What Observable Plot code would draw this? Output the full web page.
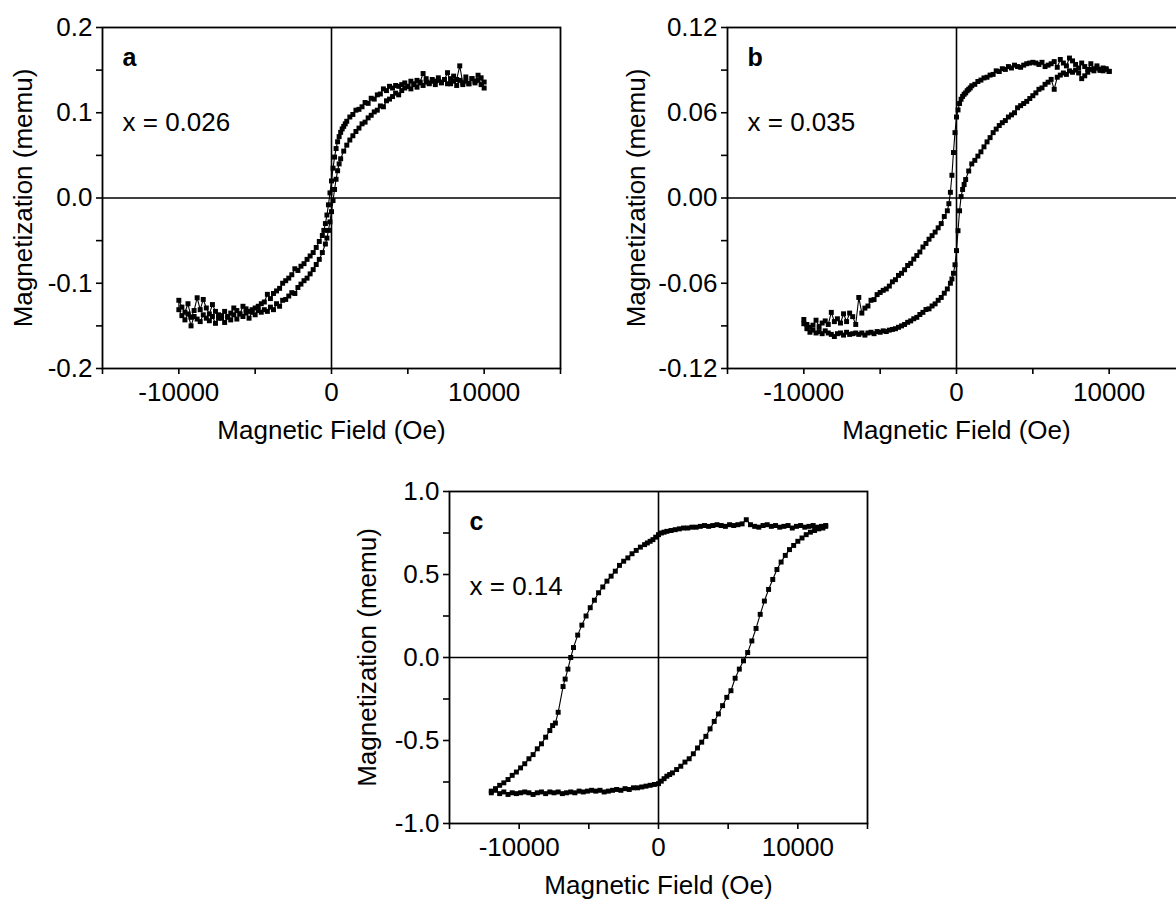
<!DOCTYPE html>
<html><head><meta charset="utf-8">
<script src="https://cdn.jsdelivr.net/npm/d3@7"></script>
<script src="https://cdn.jsdelivr.net/npm/@observablehq/plot@0.6"></script>
<style>
html,body{margin:0;padding:0;background:#fff;overflow:hidden;}
#root{position:relative;width:1176px;height:902px;overflow:hidden;background:#fff;}
#root > svg{position:absolute;}
</style></head><body><div id="root"></div>
<script>
// ---------- Data: [field H (Oe), magnetization M (memu)] ----------
// Panel a, x = 0.026 : descending branch (+H -> -H)
const aDescending = [
[10000,0.129],[9800,0.141],[9600,0.144],[9400,0.137],[9200,0.140],[9000,0.134],[8800,0.142],[8600,0.135],[8400,0.155],[8200,0.139],
[8000,0.143],[7800,0.134],[7600,0.147],[7400,0.139],[7200,0.136],[7000,0.141],[6800,0.137],[6600,0.139],[6400,0.135],[6200,0.140],
[6000,0.146],[5800,0.136],[5600,0.138],[5400,0.134],[5200,0.137],[5000,0.131],[4800,0.135],[4600,0.133],[4400,0.131],[4200,0.132],
[4000,0.129],[3800,0.131],[3600,0.126],[3400,0.128],[3200,0.122],[3000,0.121],[2800,0.116],[2600,0.117],[2400,0.111],[2200,0.112],
[2000,0.107],[1800,0.104],[1600,0.103],[1400,0.098],[1200,0.095],[1000,0.090],[900,0.087],[800,0.084],[700,0.081],[600,0.077],
[500,0.072],[400,0.066],[300,0.058],[200,0.048],[100,0.035],[0,0.020],[-100,0.006],[-200,-0.008],[-300,-0.020],[-400,-0.030],
[-500,-0.038],[-600,-0.044],[-800,-0.051],[-1000,-0.058],[-1200,-0.064],[-1400,-0.068],[-1600,-0.072],[-1800,-0.077],[-2000,-0.080],[-2200,-0.085],
[-2400,-0.083],[-2600,-0.090],[-2800,-0.094],[-3000,-0.097],[-3200,-0.100],[-3400,-0.106],[-3600,-0.109],[-3800,-0.112],[-4000,-0.118],[-4200,-0.113],
[-4400,-0.122],[-4600,-0.124],[-4800,-0.127],[-5000,-0.129],[-5200,-0.131],[-5400,-0.133],[-5600,-0.130],[-5800,-0.127],[-6000,-0.136],[-6200,-0.132],
[-6400,-0.129],[-6600,-0.135],[-6800,-0.139],[-7000,-0.133],[-7200,-0.141],[-7400,-0.137],[-7600,-0.133],[-7800,-0.125],[-8000,-0.136],[-8200,-0.129],
[-8400,-0.119],[-8600,-0.131],[-8800,-0.117],[-9000,-0.132],[-9200,-0.140],[-9400,-0.124],[-9600,-0.134],[-9800,-0.128],[-10000,-0.120]
];
// Panel a : ascending branch (-H -> +H)
const aAscending = [
[-10000,-0.131],[-9800,-0.138],[-9600,-0.143],[-9400,-0.136],[-9200,-0.150],[-9000,-0.139],[-8800,-0.142],[-8600,-0.145],[-8400,-0.137],[-8200,-0.141],
[-8000,-0.144],[-7800,-0.139],[-7600,-0.147],[-7400,-0.141],[-7200,-0.138],[-7000,-0.146],[-6800,-0.140],[-6600,-0.143],[-6400,-0.137],[-6200,-0.142],
[-6000,-0.136],[-5800,-0.139],[-5600,-0.135],[-5400,-0.141],[-5200,-0.134],[-5000,-0.137],[-4800,-0.132],[-4600,-0.134],[-4400,-0.131],[-4200,-0.133],
[-4000,-0.128],[-3800,-0.131],[-3600,-0.124],[-3400,-0.127],[-3200,-0.120],[-3000,-0.119],[-2800,-0.115],[-2600,-0.111],[-2400,-0.112],[-2200,-0.105],
[-2000,-0.101],[-1800,-0.097],[-1600,-0.094],[-1400,-0.089],[-1200,-0.084],[-1000,-0.078],[-800,-0.072],[-600,-0.064],[-400,-0.054],[-300,-0.047],
[-200,-0.038],[-100,-0.028],[0,-0.016],[100,-0.003],[200,0.010],[300,0.022],[400,0.032],[500,0.040],[600,0.046],[800,0.055],
[1000,0.062],[1200,0.068],[1400,0.073],[1600,0.078],[1800,0.082],[2000,0.087],[2200,0.089],[2400,0.094],[2600,0.097],[2800,0.101],
[3000,0.103],[3200,0.108],[3400,0.107],[3600,0.114],[3800,0.116],[4000,0.119],[4200,0.123],[4400,0.121],[4600,0.126],[4800,0.129],
[5000,0.131],[5200,0.128],[5400,0.133],[5600,0.130],[5800,0.135],[6000,0.132],[6200,0.136],[6400,0.134],[6600,0.137],[6800,0.133],
[7000,0.138],[7200,0.135],[7400,0.139],[7600,0.134],[7800,0.140],[8000,0.137],[8200,0.132],[8400,0.138],[8600,0.133],[8800,0.137],
[9000,0.134],[9200,0.140],[9400,0.135],[9600,0.138],[9800,0.133],[10000,0.136]
];
// Panel b, x = 0.035 : descending branch
const bDescending = [
[10000,0.0892],[9800,0.0905],[9600,0.0915],[9400,0.0898],[9200,0.0930],[9000,0.0910],[8800,0.0945],[8600,0.0905],[8400,0.0925],[8200,0.0950],
[8000,0.0915],[7800,0.0940],[7600,0.0965],[7400,0.0985],[7200,0.0930],[7000,0.0950],[6800,0.0975],[6600,0.0920],[6400,0.0960],[6200,0.0945],
[6000,0.0935],[5800,0.0925],[5600,0.0955],[5400,0.0940],[5200,0.0950],[5000,0.0955],[4800,0.0950],[4600,0.0945],[4400,0.0935],[4200,0.0920],
[4000,0.0925],[3800,0.0935],[3600,0.0915],[3400,0.0925],[3200,0.0905],[3000,0.0910],[2800,0.0890],[2600,0.0895],[2400,0.0870],[2200,0.0865],
[2000,0.0850],[1800,0.0845],[1600,0.0830],[1400,0.0820],[1200,0.0800],[1000,0.0790],[900,0.0775],[800,0.0765],[700,0.0755],[600,0.0740],
[500,0.0730],[400,0.0715],[300,0.0695],[200,0.0665],[100,0.0620],[0,0.0570],[-100,0.0460],[-200,0.0320],[-300,0.0160],[-400,0.0040],
[-500,-0.0040],[-600,-0.0090],[-800,-0.0130],[-1000,-0.0180],[-1200,-0.0210],[-1400,-0.0240],[-1600,-0.0265],[-1800,-0.0290],[-2000,-0.0320],[-2200,-0.0345],
[-2400,-0.0380],[-2600,-0.0405],[-2800,-0.0430],[-3000,-0.0460],[-3200,-0.0475],[-3400,-0.0505],[-3600,-0.0530],[-3800,-0.0545],[-4000,-0.0575],[-4200,-0.0590],
[-4400,-0.0620],[-4600,-0.0640],[-4800,-0.0650],[-5000,-0.0665],[-5200,-0.0680],[-5400,-0.0715],[-5600,-0.0720],[-5800,-0.0760],[-6000,-0.0775],[-6200,-0.0810],
[-6400,-0.0700],[-6600,-0.0890],[-6800,-0.0835],[-7000,-0.0810],[-7200,-0.0870],[-7400,-0.0815],[-7600,-0.0880],[-7800,-0.0850],[-8000,-0.0870],[-8200,-0.0805],
[-8400,-0.0890],[-8600,-0.0865],[-8800,-0.0880],[-9000,-0.0905],[-9200,-0.0860],[-9400,-0.0895],[-9600,-0.0910],[-9800,-0.0890],[-10000,-0.0855]
];
// Panel b : ascending branch
const bAscending = [
[-10000,-0.0885],[-9800,-0.0920],[-9600,-0.0945],[-9400,-0.0930],[-9200,-0.0950],[-9000,-0.0940],[-8800,-0.0955],[-8600,-0.0935],[-8400,-0.0950],[-8200,-0.0960],
[-8000,-0.0975],[-7800,-0.0955],[-7600,-0.0950],[-7400,-0.0965],[-7200,-0.0945],[-7000,-0.0960],[-6800,-0.0955],[-6600,-0.0950],[-6400,-0.0960],[-6200,-0.0950],
[-6000,-0.0965],[-5800,-0.0950],[-5600,-0.0945],[-5400,-0.0955],[-5200,-0.0940],[-5000,-0.0945],[-4800,-0.0935],[-4600,-0.0940],[-4400,-0.0930],[-4200,-0.0925],
[-4000,-0.0920],[-3800,-0.0910],[-3600,-0.0900],[-3400,-0.0890],[-3200,-0.0875],[-3000,-0.0865],[-2800,-0.0850],[-2600,-0.0840],[-2400,-0.0820],[-2200,-0.0805],
[-2000,-0.0785],[-1800,-0.0780],[-1600,-0.0760],[-1400,-0.0745],[-1200,-0.0720],[-1000,-0.0700],[-800,-0.0670],[-600,-0.0640],[-400,-0.0600],[-300,-0.0570],
[-200,-0.0530],[-100,-0.0470],[0,-0.0370],[100,-0.0230],[200,-0.0090],[300,0.0010],[400,0.0060],[500,0.0095],[600,0.0130],[800,0.0190],
[1000,0.0240],[1200,0.0265],[1400,0.0295],[1600,0.0325],[1800,0.0360],[2000,0.0395],[2200,0.0425],[2400,0.0460],[2600,0.0485],[2800,0.0510],
[3000,0.0530],[3200,0.0545],[3400,0.0570],[3600,0.0585],[3800,0.0600],[4000,0.0635],[4200,0.0650],[4400,0.0665],[4600,0.0680],[4800,0.0700],
[5000,0.0720],[5200,0.0740],[5400,0.0765],[5600,0.0775],[5800,0.0800],[6000,0.0815],[6200,0.0835],[6400,0.0765],[6600,0.0850],[6800,0.0865],
[7000,0.0880],[7200,0.0870],[7400,0.0895],[7600,0.0885],[7800,0.0900],[8000,0.0880],[8200,0.0840],[8400,0.0860],[8600,0.0885],[8800,0.0905],
[9000,0.0895],[9200,0.0915],[9400,0.0905],[9600,0.0895],[9800,0.0910],[10000,0.0890]
];
// Panel c, x = 0.14 : descending branch
const cDescending = [
[12000,0.795],[11700,0.790],[11400,0.785],[11100,0.795],[10800,0.790],[10500,0.785],[10200,0.795],[9900,0.790],[9600,0.780],[9300,0.795],
[9000,0.790],[8700,0.785],[8400,0.795],[8100,0.790],[7800,0.800],[7500,0.795],[7200,0.785],[6900,0.790],[6600,0.800],[6300,0.830],
[6000,0.805],[5700,0.800],[5400,0.795],[5100,0.800],[4800,0.790],[4500,0.795],[4200,0.800],[3900,0.795],[3600,0.790],[3300,0.795],
[3000,0.790],[2700,0.785],[2400,0.785],[2100,0.780],[1800,0.780],[1500,0.775],[1200,0.770],[900,0.765],[600,0.760],[400,0.755],
[200,0.750],[0,0.740],[-200,0.725],[-400,0.710],[-600,0.700],[-800,0.690],[-1000,0.680],[-1300,0.665],[-1600,0.645],[-1900,0.625],
[-2200,0.600],[-2500,0.580],[-2800,0.555],[-3100,0.520],[-3400,0.490],[-3700,0.460],[-4000,0.425],[-4300,0.390],[-4600,0.345],[-4900,0.300],
[-5200,0.250],[-5500,0.195],[-5800,0.135],[-6100,0.060],[-6300,0.000],[-6500,-0.070],[-6700,-0.130],[-6850,-0.175],[-7200,-0.330],[-7400,-0.395],
[-7600,-0.410],[-7800,-0.440],[-8100,-0.480],[-8400,-0.520],[-8700,-0.550],[-9000,-0.585],[-9300,-0.610],[-9600,-0.640],[-9900,-0.665],[-10200,-0.690],
[-10500,-0.710],[-10800,-0.735],[-11100,-0.755],[-11400,-0.770],[-11700,-0.790],[-12000,-0.805]
];
// Panel c : ascending branch
const cAscending = [
[-12000,-0.815],[-11700,-0.800],[-11400,-0.820],[-11100,-0.810],[-10800,-0.825],[-10500,-0.815],[-10200,-0.820],[-9900,-0.815],[-9600,-0.810],[-9300,-0.815],
[-9000,-0.825],[-8700,-0.815],[-8400,-0.810],[-8100,-0.820],[-7800,-0.810],[-7500,-0.815],[-7200,-0.810],[-6900,-0.820],[-6600,-0.815],[-6300,-0.810],
[-6000,-0.815],[-5700,-0.805],[-5400,-0.810],[-5100,-0.805],[-4800,-0.800],[-4500,-0.805],[-4200,-0.800],[-3900,-0.810],[-3600,-0.805],[-3300,-0.800],
[-3000,-0.795],[-2700,-0.800],[-2400,-0.790],[-2100,-0.795],[-1800,-0.785],[-1500,-0.785],[-1200,-0.780],[-900,-0.775],[-600,-0.770],[-300,-0.765],
[0,-0.760],[200,-0.745],[400,-0.730],[600,-0.715],[800,-0.705],[1000,-0.695],[1300,-0.675],[1600,-0.655],[1900,-0.630],[2200,-0.610],
[2500,-0.580],[2800,-0.545],[3100,-0.510],[3400,-0.475],[3700,-0.430],[4000,-0.385],[4300,-0.340],[4600,-0.290],[4900,-0.240],[5200,-0.200],
[5500,-0.125],[5800,-0.070],[6100,-0.020],[6400,0.030],[6700,0.100],[7000,0.175],[7300,0.260],[7600,0.340],[7900,0.410],[8200,0.470],
[8500,0.530],[8800,0.575],[9100,0.615],[9400,0.650],[9700,0.675],[10000,0.700],[10300,0.720],[10600,0.740],[10900,0.755],[11200,0.765],
[11500,0.775],[11800,0.780],[12000,0.790]
];

// Tick values and labels
const xTicks = [-15000,-10000,-5000,0,5000,10000,15000];
const xLabeled = [-10000,0,10000];
const aYTicks = [-0.2,-0.15,-0.1,-0.05,0,0.05,0.1,0.15,0.2];
const aYLabeled = [-0.2,-0.1,0,0.1,0.2];
const bYTicks = [-0.12,-0.09,-0.06,-0.03,0,0.03,0.06,0.09,0.12];
const bYLabeled = [-0.12,-0.06,0,0.06,0.12];
const cYTicks = [-1,-0.75,-0.5,-0.25,0,0.25,0.5,0.75,1];
const cYLabeled = [-1,-0.5,0,0.5,1];
const panelLetters = ["a","b","c"];
const panelNotes = ["x = 0.026","x = 0.035","x = 0.14"];
const xTitle = "Magnetic Field (Oe)";
const yTitle = "Magnetization (memu)";

const FONT = "'Liberation Sans', Arial, Helvetica, sans-serif";
const FS = 26;
const root = document.getElementById("root");

function toRows(pairs){ return pairs.map(([H,M]) => ({H, M})); }
function near(list, d){ return list.some(v => Math.abs(v - d) < 1e-9); }

function panel({desc, asc, yTicks, yLabeled, yDigits, letter, note, left, top, fw, fh, titleDx}) {
  const loop = toRows(desc).concat(toRows(asc));
  const mL = 110, mT = 27, mR = 20, mB = 80;
  const svg = Plot.plot({
    width: mL + fw + mR,
    height: mT + fh + mB,
    marginLeft: mL, marginTop: mT, marginRight: mR, marginBottom: mB,
    style: {fontFamily: FONT, fontSize: FS + "px", color: "#000", background: "transparent", overflow: "visible"},
    x: {domain: [-15000, 15000]},
    y: {domain: [yTicks[0], yTicks[yTicks.length - 1]]},
    marks: [
      Plot.ruleX([0], {stroke: "#000", strokeWidth: 1.6}),
      Plot.ruleY([0], {stroke: "#000", strokeWidth: 1.6}),
      Plot.line(loop, {x: "H", y: "M", stroke: "#000", strokeWidth: 1.1}),
      Plot.dot(loop, {x: "H", y: "M", symbol: "square", r: 2.8, fill: "#000", stroke: "none"}),
      Plot.frame({stroke: "#000", strokeWidth: 1.8}),
      Plot.axisX({ticks: xTicks, tickSize: 6, tickPadding: 8, strokeWidth: 1.6, label: null,
        fontSize: FS, tickFormat: d => near(xLabeled, d) ? String(d) : ""}),
      Plot.axisY({ticks: yTicks, tickSize: 6, tickPadding: 4, strokeWidth: 1.6, label: null,
        fontSize: FS, tickFormat: d => near(yLabeled, d) ? d.toFixed(yDigits) : ""}),
      Plot.text([xTitle], {frameAnchor: "bottom", dy: 62, text: d => d, fontSize: FS, textAnchor: "middle", lineAnchor: "middle", fill: "#000"}),
      Plot.text([yTitle], {frameAnchor: "left", dx: titleDx, rotate: -90, text: d => d, fontSize: FS, textAnchor: "middle", lineAnchor: "middle", fill: "#000"}),
      Plot.text([letter], {frameAnchor: "top-left", dx: 20, dy: 30, text: d => d, fontSize: 25, fontWeight: "bold", textAnchor: "start", lineAnchor: "middle", fill: "#000"}),
      Plot.text([note], {frameAnchor: "top-left", dx: 20, dy: 95, text: d => d, fontSize: 26, textAnchor: "start", lineAnchor: "middle", fill: "#000"})
    ]
  });
  svg.style.left = (left - mL) + "px";
  svg.style.top = (top - mT) + "px";
  root.appendChild(svg);
}

panel({desc: aDescending, asc: aAscending, yTicks: aYTicks, yLabeled: aYLabeled, yDigits: 1,
  letter: panelLetters[0], note: panelNotes[0], left: 102, top: 27, fw: 458, fh: 341, titleDx: -79});
panel({desc: bDescending, asc: bAscending, yTicks: bYTicks, yLabeled: bYLabeled, yDigits: 2,
  letter: panelLetters[1], note: panelNotes[1], left: 727, top: 27, fw: 458, fh: 341, titleDx: -91});
panel({desc: cDescending, asc: cAscending, yTicks: cYTicks, yLabeled: cYLabeled, yDigits: 1,
  letter: panelLetters[2], note: panelNotes[2], left: 449, top: 491, fw: 418, fh: 332, titleDx: -82});
</script>
</body></html>
